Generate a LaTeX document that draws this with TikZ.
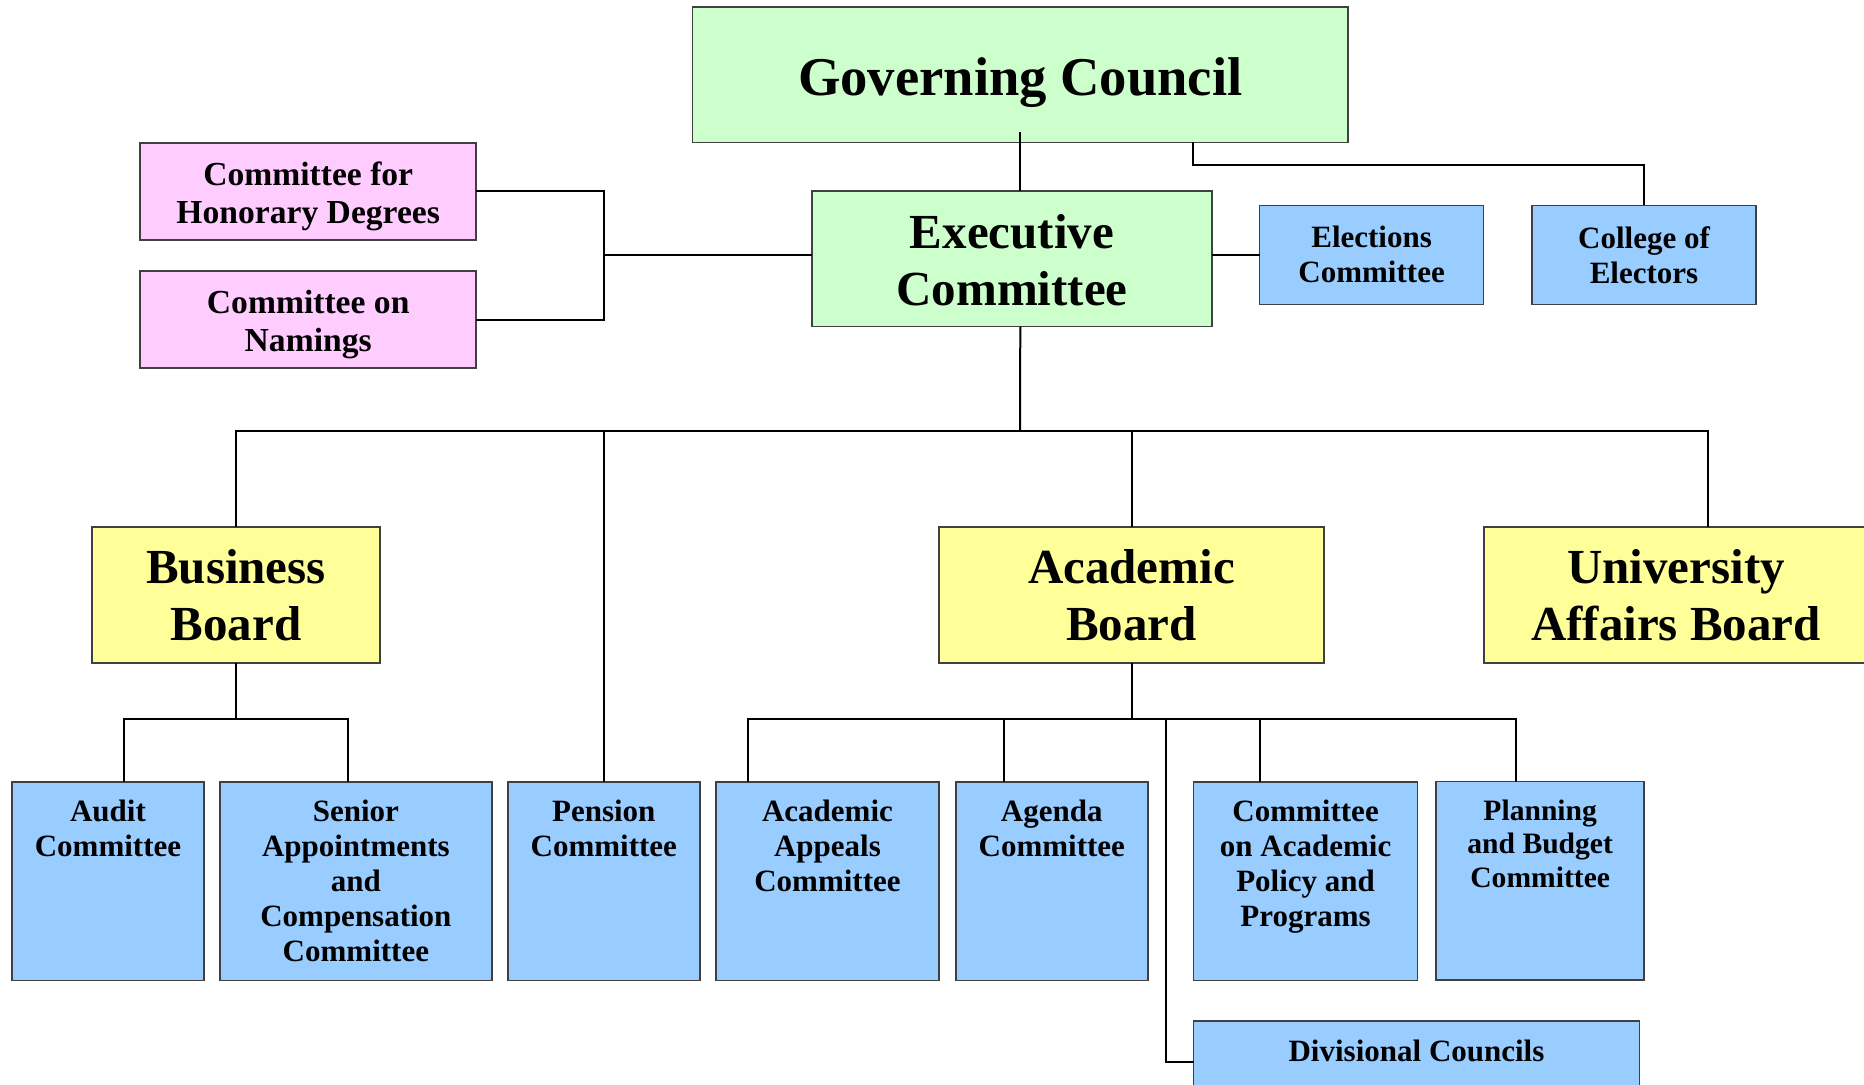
\documentclass[tikz,border=0pt]{standalone}
\usepackage{fontspec}
\setmainfont{Liberation Serif}
\usetikzlibrary{calc}
\definecolor{gcgreen}{HTML}{CCFFCC}
\definecolor{hnpink}{HTML}{FFCCFF}
\definecolor{bdyellow}{HTML}{FFFF99}
\definecolor{cmblue}{HTML}{99CCFF}
\tikzset{ every node/.style={draw=black!75,line width=0.8pt,align=center,inner sep=0pt,outer sep=0pt},
  dims/.style 2 args={minimum width=#1*0.5pt,minimum height=#2*0.5pt},
  greenbox/.style={fill=gcgreen},
  pinkbox/.style={fill=hnpink,font=\fontsize{16.8}{19}\selectfont\bfseries},
  boardbox/.style={fill=bdyellow,font=\fontsize{24.5}{28.5}\selectfont\bfseries},
  bluebox/.style={fill=cmblue,font=\fontsize{15.5}{17.5}\selectfont\bfseries},
  link/.style={draw=black,line width=1pt}}

\begin{document}
\begin{tikzpicture}[x=0.5pt,y=-0.5pt]
  \useasboundingbox (0,0) rectangle (1864,1084);

  \node[greenbox,dims={655.4}{135.4},text height=26.6pt,text depth=5.5pt,font=\fontsize{27.3}{31}\selectfont\bfseries] (gc) at (1020.3,74.7) {Governing Council};
  \node[greenbox,dims={400}{135.8},font=\fontsize{24.5}{28.5}\selectfont\bfseries] (exec) at (1012,258.7) {\rule{0pt}{19pt}Executive\\Committee};
  \node[pinkbox,dims={336}{97}] (honor) at (308.2,191.3) {\rule{0pt}{16.4pt}Committee for\\Honorary Degrees};
  \node[pinkbox,dims={336}{97}] (naming) at (308.2,319.7) {\rule{0pt}{16.4pt}Committee on\\Namings};
  \node[bluebox,dims={224}{99}] (elect) at (1371.6,254.8) {Elections\\Committee};
  \node[bluebox,dims={224}{99}] (college) at (1644,254.8) {College of\\Electors};

  \node[boardbox,dims={288}{136}] (business) at (236,595) {Business\\Board};
  \node[boardbox,dims={385}{136}] (academic) at (1131.5,595) {Academic\\Board};
  \node[boardbox,dims={384}{136}] (univ) at (1676,595) {University\\Affairs Board};

  \foreach \pos/\name/\boxw/\txt in {{(108,881.2)/audit/192.4/{Audit\\Committee\\~\\~\\~}},
      {(355.9,881.2)/senior/271.7/{Senior\\Appointments\\and\\Compensation\\Committee}},
      {(603.8,881.2)/pension/192/{Pension\\Committee\\~\\~\\~}},
      {(827.5,881.2)/appeals/223.4/{Academic\\Appeals\\Committee\\~\\~}},
      {(1051.8,881.2)/agenda/192/{Agenda\\Committee\\~\\~\\~}},
      {(1305.6,881.2)/capp/224/{Committee\\on Academic\\Policy and\\Programs\\~}}}
    \node[bluebox,dims={\boxw}{198.5}] (\name) at \pos {\txt};
  \node[bluebox,dims={208}{198.5},font=\fontsize{14.8}{16.8}\selectfont\bfseries] (planning) at (1540.2,880.8) {Planning\\and Budget\\Committee\\~\\\rule[-3.6pt]{0pt}{0pt}};
  \node[bluebox,dims={446}{95}] (divisional) at (1416.5,1068.5) {Divisional Councils\\~};

  % top part
  \coordinate (pj) at (604,255);
  \coordinate (bus) at (1020,431);
  \draw[link] ([yshift=5pt]gc.south) -- (gc.south |- exec.north);
  \draw[link] (gc.south) ++(173,0) -- ++(0,23) -| (college.north);
  \draw[link] (elect.west) -- (elect.west -| exec.east);
  \draw[link] (honor.east) -| (pj) |- (naming.east);
  \draw[link] (pj) -- (pj -| exec.west);

  % boards
  \draw[link] (gc.south |- exec.south) -- (bus);
  \draw[link] (business.north) |- (bus);
  \draw[link] (pension.north) -- (pension.north |- bus);
  \draw[link] (academic.north) -- (academic.north |- bus);
  \draw[link] ($(univ.north)+(32,0)$) |- (bus);

  % business board committees
  \coordinate (bbus) at (236,719);
  \draw[link] (business.south) -- (bbus);
  \draw[link] ($(audit.north)+(16.3,0)$) |- (bbus);
  \draw[link] ($(senior.north)+(-8,0)$) |- (bbus);

  % academic board committees
  \coordinate (abus) at (1131.5,719);
  \draw[link] (academic.south) -- (abus);
  \draw[link] ($(appeals.north)+(-79.5,0)$) |- (abus);
  \draw[link] ($(agenda.north)+(-48,0)$) |- (abus);
  \draw[link] ($(capp.north)+(-46,0)$) |- (abus);
  \draw[link] ($(planning.north)+(-24.4,0)$) |- (abus);
  \draw[link] ($(divisional.north west)+(0,41)$) -| ($(abus)+(34,0)$);
\end{tikzpicture}
\end{document}
